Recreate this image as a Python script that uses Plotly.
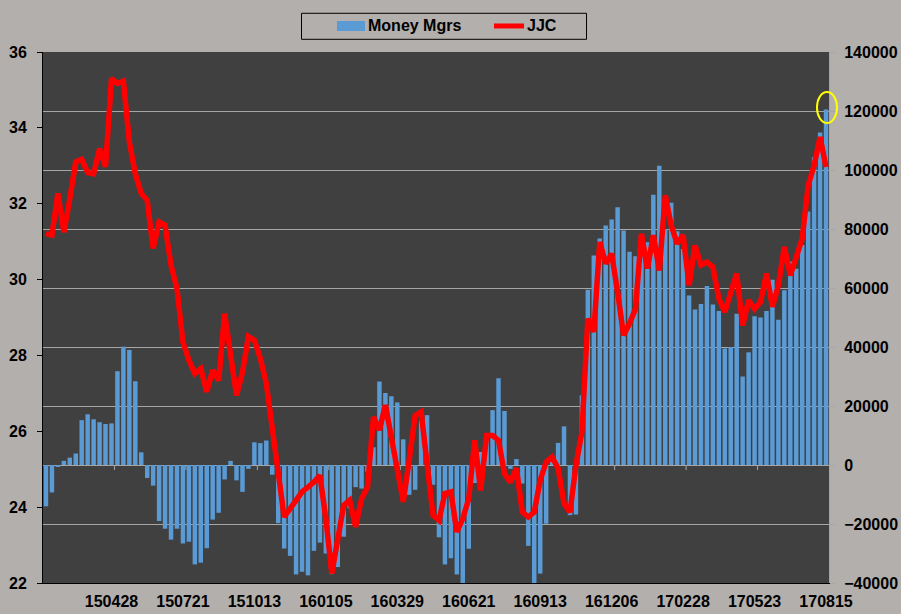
import pandas as pd
import plotly.graph_objects as go

# Weekly report dates (YYMMDD), 2015-02-10 .. 2017-08-15
weeks = [d.strftime("%y%m%d") for d in pd.date_range("2015-02-10", periods=132, freq="7D")]
tick_labels = ["150428", "150721", "151013", "160105", "160329", "160621",
               "160913", "161206", "170228", "170523", "170815"]

money_mgrs = [
    -14000, -9300, -600, 1400, 2500, 3900, 15200, 17200, 15500, 14500,
    13900, 14100, 31800, 40100, 39000, 28400, 4300, -4400, -7000, -19000,
    -21600, -25300, -21600, -26600, -26000, -33700, -33100, -28200, -18500, -16200,
    -4900, 1400, -5200, -9100, -1300, 7700, 7400, 8300, -3300, -19700,
    -28300, -30800, -37100, -36200, -37400, -29100, -26300, -30000, -37000, -34600,
    -24300, -14700, -7500, -8000, -2300, 6000, 28300, 24400, 23300, 21200,
    8700, -10100, -8400, 15000, 16900, -6700, -24500, -33700, -31600, -37100,
    -40500, -28400, -6100, 4400, 9000, 18600, 29400, 18300, -1300, 2000,
    -6300, -27400, -40500, -36800, -19900, 3300, 7500, 13100, -17000, -16800,
    23600, 59400, 71000, 76800, 81200, 83200, 87400, 79500, 72300, 70800,
    76000, 75500, 91600, 101400, 80000, 88900, 79200, 73200, 57500, 52700,
    54600, 60700, 54400, 52200, 39500, 40000, 51300, 30000, 38200, 50400,
    50000, 52200, 62800, 49200, 59200, 69000, 66500, 74600, 85900, 104300,
    112700, 120500,
]

jjc = [
    31.21, 31.17, 32.27, 31.25, 32.13, 33.10, 33.17, 32.82, 32.79, 33.45,
    32.97, 35.30, 35.17, 35.23, 33.63, 32.79, 32.27, 32.09, 30.82, 31.52,
    31.43, 30.38, 29.76, 28.35, 27.87, 27.52, 27.65, 27.04, 27.61, 27.34,
    29.10, 28.00, 26.95, 27.56, 28.50, 28.40, 27.92, 27.26, 26.16, 25.02,
    23.74, 23.96, 24.18, 24.40, 24.53, 24.66, 24.84, 23.70, 22.25, 23.26,
    24.05, 24.18, 23.48, 24.22, 24.53, 26.38, 26.03, 26.69, 25.89, 25.02,
    24.14, 25.24, 26.42, 26.51, 25.02, 23.79, 23.65, 24.36, 24.40, 23.35,
    23.70, 24.22, 25.76, 24.44, 25.89, 25.89, 25.76, 24.88, 24.66, 25.02,
    23.87, 23.74, 23.87, 24.71, 25.19, 25.32, 25.02, 24.09, 23.87, 25.10,
    25.98, 28.97, 28.62, 30.99, 30.42, 30.68, 29.67, 28.53, 28.84, 29.23,
    31.21, 30.29, 31.17, 30.24, 32.22, 31.43, 30.95, 31.17, 29.85, 30.90,
    30.38, 30.46, 30.33, 29.50, 29.15, 29.67, 30.16, 28.79, 29.45, 29.23,
    29.41, 30.16, 29.28, 29.85, 30.86, 30.11, 30.64, 31.08, 32.48, 33.01,
    33.76, 32.97,
]

PAPER = "#b3afad"
PLOT = "#404040"
GRID = "#a6a6a6"
BAR = "#5b9bd5"
LINE = "#ff0000"
FONT = dict(family="Liberation Sans, Arial, sans-serif", size=16, color="black", weight="bold")

fig = go.Figure()
fig.add_trace(go.Bar(x=weeks, y=money_mgrs, name="Money Mgrs",
                     marker=dict(color=BAR, line=dict(width=0)), yaxis="y"))
fig.add_trace(go.Scatter(x=weeks, y=jjc, name="JJC", mode="lines",
                         line=dict(color=LINE, width=5.5), yaxis="y2"))

# Legend drawn as a framed key above the plot (Excel style)
legend_shapes = [
    dict(type="rect", xref="paper", yref="paper", x0=0.3289, x1=0.6915, y0=1.0239, y1=1.0729,
         line=dict(color="black", width=1), fillcolor=PAPER, layer="above"),
    dict(type="rect", xref="paper", yref="paper", x0=0.3740, x1=0.4097, y0=1.0395, y1=1.0584,
         line=dict(width=0), fillcolor=BAR, layer="above"),
    dict(type="line", xref="paper", yref="paper", x0=0.5738, x1=0.6120, y0=1.049, y1=1.049,
         line=dict(color=LINE, width=5), layer="above"),
]
legend_texts = [
    dict(text="Money Mgrs", xref="paper", yref="paper", x=0.4105, y=1.049,
         xanchor="left", yanchor="middle", showarrow=False, font=FONT),
    dict(text="JJC", xref="paper", yref="paper", x=0.6128, y=1.049,
         xanchor="left", yanchor="middle", showarrow=False, font=FONT),
]

# Small category-axis tick marks where the axis crosses zero (between label week and next)
axis_ticks = [dict(type="line", xref="x", yref="y", layer="below",
                   x0=weeks.index(t) + 0.5, x1=weeks.index(t) + 0.5, y0=0, y1=-1700,
                   line=dict(color=GRID, width=1))
              for t in tick_labels[:-1]]

fig.update_layout(
    width=901, height=614,
    margin=dict(l=43, r=72, t=52, b=31, autoexpand=False),
    paper_bgcolor=PAPER, plot_bgcolor=PLOT,
    font=FONT,
    bargap=0.25,
    showlegend=False,
    xaxis=dict(type="category", tickmode="array", tickvals=tick_labels, ticktext=tick_labels,
               showgrid=False, showline=True, linecolor="black", linewidth=1,
               ticks="", tickangle=0, ticklabelstandoff=4, range=[-0.5, 131.5],
               automargin=False),
    yaxis=dict(side="right", range=[-40000, 140000], dtick=20000, tickformat="d",
               showgrid=True, gridcolor=GRID, gridwidth=1,
               zeroline=True, zerolinecolor=GRID, zerolinewidth=1,
               ticks="outside", ticklen=5, tickcolor=GRID, ticklabelstandoff=6,
               showline=True, linecolor=GRID, linewidth=1, automargin=False),
    yaxis2=dict(side="left", overlaying="y", range=[22, 36], dtick=2,
                showgrid=False, zeroline=False,
                ticks="outside", ticklen=5, tickcolor="black", ticklabelstandoff=7,
                showline=True, linecolor="black", linewidth=1, automargin=False),
    shapes=axis_ticks + legend_shapes + [dict(type="circle", xref="paper", yref="paper",
                                              x0=0.9847, x1=1.0102, y0=0.8663, y1=0.9247,
                                              line=dict(color="#ffff00", width=2))],
    annotations=legend_texts,
)

fig.write_html("out.html", config={"displayModeBar": False},
               post_script="document.body.style.margin='0';document.body.style.background='%s';" % PAPER)
